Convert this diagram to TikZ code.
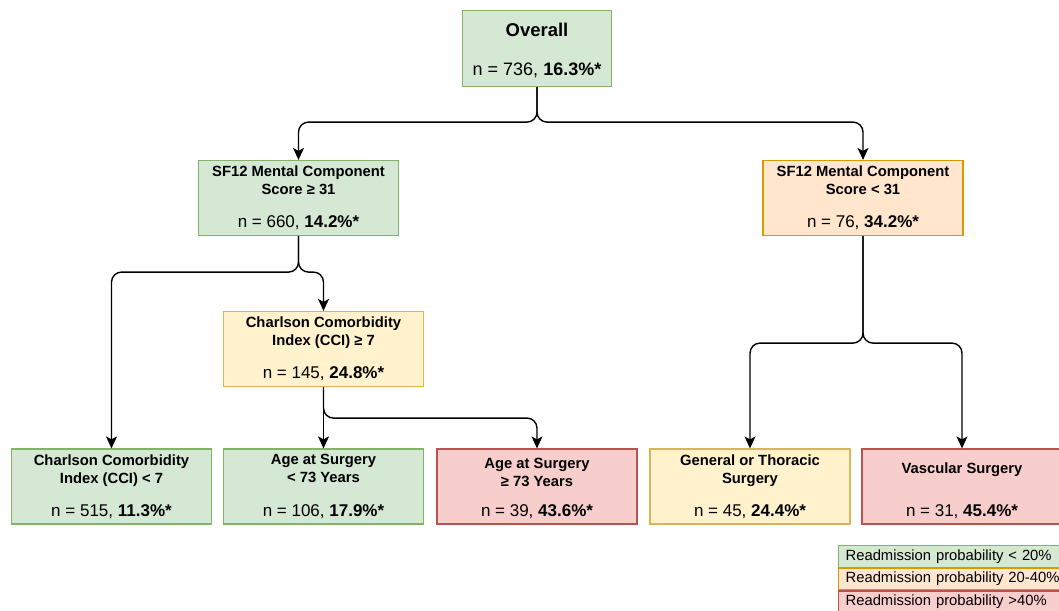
\documentclass[tikz,border=0pt]{standalone}
\usepackage{fontspec}
\setmainfont{Liberation Sans}
\usetikzlibrary{positioning, arrows.meta}

\definecolor{greenFill}{HTML}{D5E8D4}
\definecolor{greenLine}{HTML}{82B366}
\definecolor{yellowFill}{HTML}{FFF2CC}
\definecolor{yellowLine}{HTML}{D6B656}
\definecolor{orangeFill}{HTML}{FFE6CC}
\definecolor{orangeLine}{HTML}{D79B00}
\definecolor{redFill}{HTML}{F8CECC}
\definecolor{redLine}{HTML}{B85450}

% header on top, counts at the bottom of each box
\newcommand{\splitText}[3]{\parbox[c][62pt][s]{198pt}{\centering
    \fontsize{14.8}{18}\selectfont\bfseries #1\par\vfill
    \fontsize{17}{19}\selectfont\mdseries n = #2, \textbf{#3\%*}}}

\begin{document}
\begin{tikzpicture}[
        x=1pt, y=1pt,
        splitNode/.style={draw, rectangle, minimum width=200pt, minimum height=75pt, inner sep=0pt, line width=1.2pt},
        greenNode/.style={splitNode, fill=greenFill, draw=greenLine},
        yellowNode/.style={splitNode, fill=yellowFill, draw=yellowLine},
        orangeNode/.style={splitNode, fill=orangeFill, draw=orangeLine},
        redNode/.style={splitNode, fill=redFill, draw=redLine},
        keyNode/.style={draw, rectangle, anchor=north west, minimum width=240pt, minimum height=21.5pt, inner xsep=7pt, inner ysep=0pt, text width=226pt, align=left, line width=1.2pt, font=\fontsize{14.8}{16}\selectfont},
        arrow/.style={-{Stealth[length=12pt, width=11pt, inset=3pt]}, line width=1.4pt, rounded corners=10pt}
    ]
        \useasboundingbox (0,0) rectangle (1059,-610);
        \clip (0,0) rectangle (1059,-610);

        % Nodes
        \node[greenNode, minimum width=149pt, minimum height=76pt] (overall) at (537,-48.5)
            {\parbox[c][56pt][s]{145pt}{\vspace*{4pt}\centering
             \fontsize{18.5}{20}\selectfont\bfseries Overall\par\vfill
             \fontsize{18}{19}\selectfont\mdseries n = 736, \textbf{16.3\%*}}};

        \node[greenNode] (mcsHi) at (298.5,-198) {\splitText{SF12 Mental Component\\Score ≥ 31}{660}{14.2}};
        \node[orangeNode] (mcsLo) at (863,-198) {\splitText{SF12 Mental Component\\Score < 31}{76}{34.2}};

        \node[yellowNode] (cciHi) at (323.5,-349) {\splitText{Charlson Comorbidity\\Index (CCI) ≥ 7}{145}{24.8}};

        \node[greenNode] (cciLo) at (111.5,-486.5) {\splitText{Charlson Comorbidity\\Index (CCI) < 7}{515}{11.3}};
        \node[greenNode] (ageLo) at (323.5,-486.5) {\splitText{Age at Surgery\\< 73 Years}{106}{17.9}};
        \node[redNode] (ageHi) at (537,-486.5) {\splitText{\vspace{4pt}Age at Surgery\\≥ 73 Years}{39}{43.6}};
        \node[yellowNode] (general) at (750,-486.5) {\splitText{General or Thoracic\\Surgery}{45}{24.4}};
        \node[redNode] (vascular) at (962,-486.5) {\splitText{\vspace{8pt}Vascular Surgery}{31}{45.4}};

        % Legend
        \node[keyNode, fill=greenFill, draw=greenLine] (keyGreen) at (838,-545) {Readmission probability < 20\%};
        \node[keyNode, fill=orangeFill, draw=orangeLine, below=0pt of keyGreen.south west, anchor=north west] (keyOrange) {Readmission probability 20-40\%};
        \node[keyNode, fill=redFill, draw=redLine, below=0pt of keyOrange.south west, anchor=north west] (keyRed) {Readmission probability >40\%};

        % Arrows
        \draw[arrow] (overall.south) -- ++(0,-35) -| (mcsHi.north);
        \draw[arrow] (overall.south) -- ++(0,-35) -| (mcsLo.north);
        \draw[arrow] (mcsHi.south) -- ++(0,-36) -| (cciLo.north);
        \draw[arrow] (mcsHi.south) -- ++(0,-36) -| (cciHi.north);
        \draw[arrow] (mcsLo.south) -- ++(0,-107) -| (general.north);
        \draw[arrow] (mcsLo.south) -- ++(0,-107) -| (vascular.north);
        \draw[arrow] (cciHi.south) -- (ageLo.north);
        \draw[arrow] (cciHi.south) -- ++(0,-31) -| (ageHi.north);
    \end{tikzpicture}
\end{document}
